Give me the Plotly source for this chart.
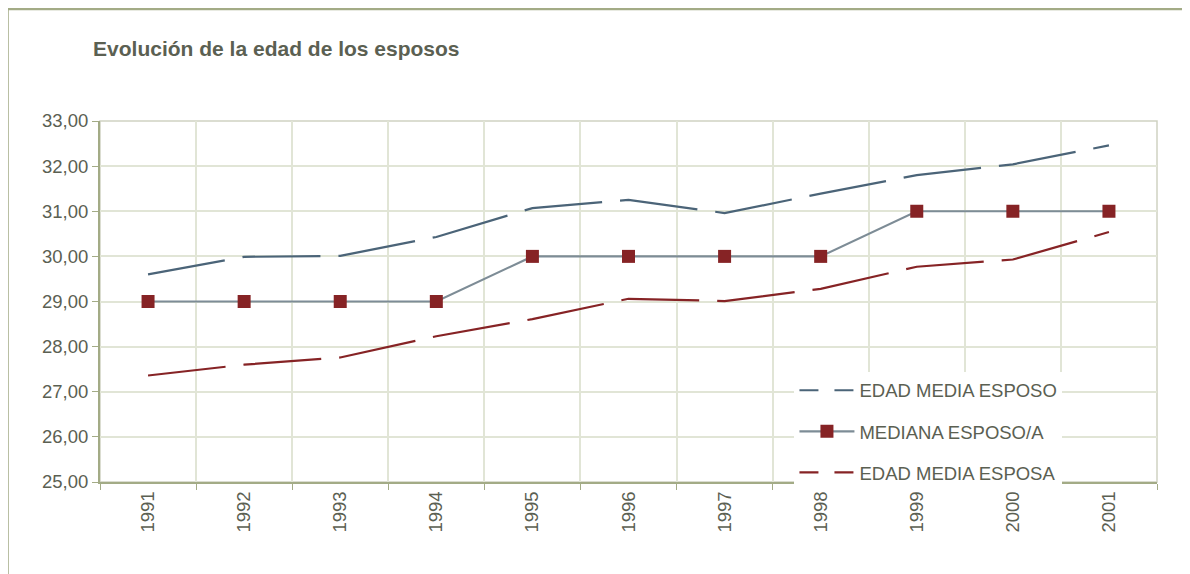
import plotly.graph_objects as go

# Data
years = ["1991", "1992", "1993", "1994", "1995", "1996", "1997", "1998", "1999", "2000", "2001"]
edad_media_esposo = [29.60, 29.99, 30.01, 30.43, 31.07, 31.25, 30.96, 31.39, 31.80, 32.04, 32.46]
mediana = [29, 29, 29, 29, 30, 30, 30, 30, 31, 31, 31]
edad_media_esposa = [27.36, 27.60, 27.76, 28.23, 28.61, 29.06, 29.01, 29.28, 29.77, 29.93, 30.54]

text_color = "#5b6052"
olive = "#a3ab86"
grid = "#e1e5d6"
c_esposo = "#4b6478"
c_mediana = "#7d8c96"
c_red = "#862325"

fig = go.Figure()

fig.add_trace(go.Scatter(
    x=years, y=edad_media_esposo, name="EDAD MEDIA ESPOSO",
    mode="lines", line=dict(color=c_esposo, width=2.2, dash="78px,18px"),
    showlegend=False
))
fig.add_trace(go.Scatter(
    x=years, y=mediana, name="MEDIANA ESPOSO/A",
    mode="lines+markers", line=dict(color=c_mediana, width=2.2),
    marker=dict(symbol="square", size=13, color=c_red),
    showlegend=False
))
fig.add_trace(go.Scatter(
    x=years, y=edad_media_esposa, name="EDAD MEDIA ESPOSA",
    mode="lines", line=dict(color=c_red, width=2.2, dash="78px,18px"),
    showlegend=False
))

# legend entries (shorter dash so the pattern shows in the key)
fig.add_trace(go.Scatter(x=[None], y=[None], name="EDAD MEDIA ESPOSO", mode="lines",
                         line=dict(color=c_esposo, width=2.2, dash="19px,16px"),
                         legendgroup="a"))
fig.add_trace(go.Scatter(x=[None], y=[None], name="MEDIANA ESPOSO/A", mode="lines+markers",
                         line=dict(color=c_mediana, width=2.2),
                         marker=dict(symbol="square", size=13, color=c_red),
                         legendgroup="b"))
fig.add_trace(go.Scatter(x=[None], y=[None], name="EDAD MEDIA ESPOSA", mode="lines",
                         line=dict(color=c_red, width=2.2, dash="19px,16px"),
                         legendgroup="c"))

# outer frame (top and left edges)
fig.add_shape(type="line", xref="paper", yref="paper",
              x0=-0.0875, x1=1.05, y0=1.31, y1=1.31,
              line=dict(color=olive, width=2.5))
fig.add_shape(type="line", xref="paper", yref="paper",
              x0=-0.0875, x1=-0.0875, y0=1.31, y1=-0.3,
              line=dict(color=olive, width=2.5))

fig.update_layout(
    width=1182, height=566,
    margin=dict(l=92, r=33, t=113, b=92),
    paper_bgcolor="white", plot_bgcolor="white",
    separators=",.",
    font=dict(family="Liberation Sans, Arial, sans-serif", size=18, color=text_color),
    title=dict(text="<b>Evolución de la edad de los esposos</b>",
               x=0.072, xanchor="left", y=0.928, yanchor="middle",
               font=dict(size=21, color=text_color)),
    legend=dict(x=0.657, xanchor="left", y=-0.027, yanchor="bottom",
                bgcolor="white", font=dict(size=18.5, color=text_color),
                tracegroupgap=14, itemwidth=55),
    showlegend=True,
)

fig.update_xaxes(
    type="category", tickson="boundaries", range=[-0.5, 10.5],
    showgrid=True, gridcolor=grid, gridwidth=1.5,
    showline=True, linecolor=olive, linewidth=2, mirror=False,
    ticks="outside", ticklen=6, tickcolor=olive,
    tickangle=-90, tickfont=dict(size=18.5, color=text_color),
)
fig.update_yaxes(
    range=[25, 33], dtick=1, tickformat=".2f",
    showgrid=True, gridcolor=grid, gridwidth=1.5,
    showline=True, linecolor=olive, linewidth=2,
    ticks="outside", ticklen=6, tickcolor=olive,
    tickfont=dict(size=18.5, color=text_color), zeroline=False,
)

# light top/right frame of the plot area
fig.add_shape(type="rect", xref="paper", yref="paper", x0=0, x1=1, y0=0, y1=1,
              line=dict(color="#cfd2c2", width=1.5), layer="below")

fig.write_html("out.html")
